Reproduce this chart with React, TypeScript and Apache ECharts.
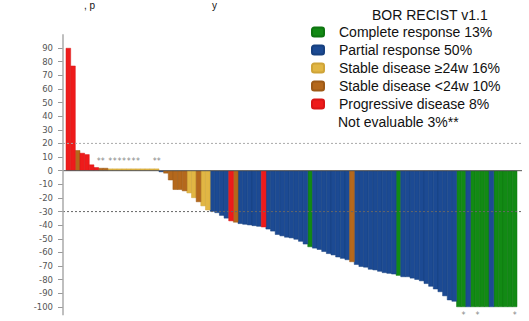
import React, { useEffect, useRef } from "react";
import * as echarts from "echarts";

// Best % change in tumour size, one bar per patient (sorted waterfall)
const changes: number[] = [
  90, 77, 15, 13, 12, 4.5, 2.5, 2, 2, 1.5,
  1.5, 1.5, 1.5, 1.5, 1.5, 1.5, 1.5, 1.5, 1.5, 1.5,
  -1, -2, -7, -14, -14, -15, -16.5, -20, -23, -26,
  -29, -30, -31, -33, -35, -37, -38, -39, -39.5, -40,
  -40.5, -41, -41.5, -43, -44.5, -47, -48, -49, -49.5, -50.5,
  -52, -54, -56, -57, -58, -59.5, -61, -62, -63.5, -64.5,
  -65.5, -67, -69, -70.5, -71, -72.5, -73, -74, -75, -75.5,
  -76, -77, -78, -78, -79, -80, -81, -83, -85, -87,
  -89, -92, -95, -96, -100, -100, -100, -100, -100, -100,
  -100, -100, -100, -100, -100, -100, -100,
];

// Best overall response per patient
const responses: string[] = [
  "PD", "PD", "SDs", "PD", "PD", "PD", "PD", "SDs", "SDs", "SDl",
  "SDl", "SDl", "SDl", "SDl", "SDl", "SDl", "SDl", "SDl", "SDl", "SDl",
  "PR", "SDs", "SDs", "SDs", "SDs", "SDs", "SDl", "SDl", "SDs", "SDl",
  "SDl", "PR", "PR", "PR", "PR", "PD", "SDs", "PR", "PR", "PR",
  "PR", "PR", "PD", "PR", "PR", "PR", "PR", "PR", "PR", "PR",
  "PR", "PR", "CR", "PR", "PR", "PR", "PR", "PR", "PR", "PR",
  "PR", "SDs", "PR", "PR", "PR", "PR", "PR", "PR", "PR", "PR",
  "PR", "CR", "PR", "PR", "PR", "PR", "PR", "PR", "PR", "PR",
  "PR", "PR", "PR", "PR", "CR", "CR", "PR", "CR", "CR", "CR",
  "CR", "PR", "CR", "CR", "CR", "CR", "CR",
];

const categoryCodes = ["CR", "PR", "SDl", "SDs", "PD"];
const categoryNames = [
  "Complete response 13%",
  "Partial response 50%",
  "Stable disease \u226524w 16%",
  "Stable disease <24w 10%",
  "Progressive disease 8%",
];
const categoryColors = ["#128a14", "#1c4a93", "#e1b644", "#b4681c", "#ee1b1b"];
const categoryEdges = ["#0e7510", "#17407f", "#cfa438", "#9d5a17", "#d81616"];

// asterisk annotations
const starTopIdx = [7, 9, 10, 11, 12, 13, 14, 15, 19];
const starTopText = ["**", "*", "*", "*", "*", "*", "*", "*", "**"];
const starTopValue = 7;
const starBottomIdx = [85, 88, 96];
const starBottomValue = -106;

const yTicks = { min: -100, max: 90, interval: 10 };
const refLines = [20, 0, -30];

export default function App() {
  const ref = useRef<HTMLDivElement>(null);
  useEffect(() => {
    if (!ref.current) return;
    const chart = echarts.init(ref.current, undefined, { renderer: "svg" });
    const cats = changes.map((_, i) => "P" + (i + 1));
    const barSeries = categoryCodes.map((code, k) => ({
      type: "bar",
      name: categoryNames[k],
      data: changes.map((v, i) => (responses[i] === code ? v : "-")),
      barGap: "-100%",
      barWidth: 5.2,
      itemStyle: {
        color: categoryColors[k],
        borderColor: categoryEdges[k],
        borderWidth: 0.5,
      },
    }));
    const option: any = {
      animation: false,
      title: {
        text: "BOR RECIST v1.1",
        left: 367,
        top: 3,
        textStyle: {
          fontFamily: "Liberation Sans",
          fontSize: 14,
          fontWeight: "normal",
          color: "#111",
        },
      },
      legend: {
        orient: "vertical",
        left: 306,
        top: 20,
        itemWidth: 12,
        itemHeight: 9,
        itemGap: 4,
        icon: "roundRect",
        data: categoryNames,
        textStyle: {
          fontFamily: "Liberation Sans",
          fontSize: 14,
          color: "#111",
          padding: [0, 0, 0, 10],
        },
      },
      grid: { left: 66, right: 12, top: 48, bottom: 14 },
      xAxis: {
        type: "category",
        data: cats,
        show: false,
      },
      yAxis: {
        type: "value",
        min: yTicks.min,
        max: yTicks.max,
        interval: yTicks.interval,
        offset: 3,
        axisLine: { show: false },
        axisTick: { show: true, length: 5, lineStyle: { color: "#999" } },
        splitLine: { show: false },
        axisLabel: {
          margin: 10,
          fontFamily: "DejaVu Sans",
          fontSize: 8.5,
          color: "#555",
        },
      },
      series: [
        ...barSeries,
        {
          type: "scatter",
          data: starTopIdx.map((i) => [i, starTopValue]),
          symbol: "circle",
          symbolSize: 0,
          itemStyle: { color: "transparent" },
          label: {
            show: true,
            position: "inside",
            formatter: (p: any) => starTopText[p.dataIndex],
            fontFamily: "DejaVu Sans",
            fontSize: 8,
            color: "#666",
          },
          z: 5,
        },
        {
          type: "scatter",
          clip: false,
          data: starBottomIdx.map((i) => [i, starBottomValue]),
          symbol: "circle",
          symbolSize: 0,
          itemStyle: { color: "transparent" },
          label: {
            show: true,
            position: "inside",
            formatter: "*",
            fontFamily: "DejaVu Sans",
            fontSize: 8,
            color: "#666",
          },
          z: 5,
        },
      ],
    };
    chart.setOption(option);

    const yPix = (v: number) => chart.convertToPixel({ yAxisIndex: 0 }, v) as number;
    const lineStyles: Record<number, any> = {
      20: { stroke: "#aaa", lineWidth: 1, lineDash: [2, 2] },
      0: { stroke: "#555", lineWidth: 1 },
      "-30": { stroke: "#666", lineWidth: 1, lineDash: [2, 2] },
    };
    chart.setOption({
      graphic: [
        ...refLines.map((v) => ({
          type: "line",
          shape: { x1: 63, y1: yPix(v), x2: 522, y2: yPix(v) },
          style: lineStyles[v],
          z: 20,
        })),
        {
          type: "line",
          shape: { x1: 63, y1: yPix(100), x2: 63, y2: yPix(-106) },
          style: { stroke: "#aaa", lineWidth: 1.5 },
          z: 20,
        },
        {
          type: "text",
          x: 338,
          y: 115,
          style: {
            text: "Not evaluable 3%**",
            fontFamily: "Liberation Sans",
            fontSize: 14,
            fill: "#111",
          },
        },
        {
          type: "text",
          x: 84,
          y: 0,
          style: { text: ", p", fontFamily: "Liberation Sans", fontSize: 10, fill: "#111" },
        },
        {
          type: "text",
          x: 212,
          y: 0,
          style: { text: "y", fontFamily: "Liberation Sans", fontSize: 10, fill: "#111" },
        },
      ],
    });
    return () => chart.dispose();
  }, []);
  return (
    <div
      ref={ref}
      style={{ position: "absolute", left: 0, top: 0, width: 529, height: 321, background: "#fff" }}
    />
  );
}
